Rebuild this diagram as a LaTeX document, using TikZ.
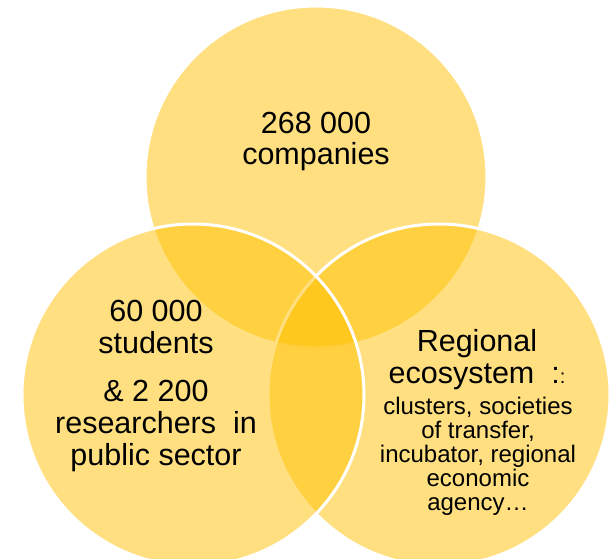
\documentclass[tikz,border=0pt]{standalone}
\usepackage{fontspec}
\setmainfont{Liberation Sans}
\usetikzlibrary{positioning}
\usetikzlibrary{calc}
\definecolor{vennyellow}{RGB}{255,192,0}

\begin{document}
\begin{tikzpicture}[x=1pt, y=-1pt,
        venn/.style={circle, draw=white, line width=3pt, fill=vennyellow, fill opacity=0.5, minimum size=342pt, inner sep=0pt},
        bigtext/.style={align=center, font=\fontsize{30.5}{32}\selectfont, inner sep=0pt},
        smalltext/.style={align=center, font=\fontsize{24}{24}\selectfont, inner sep=0pt}]
        \useasboundingbox (0,0) rectangle (611,559);

        % circles: top first, then right, then left
        \node[venn] (companies) at (316,177) {};
        \node[venn] (ecosystem) at (439,395) {};
        \node[venn] (academia) at (193,395) {};

        % base anchor sits on the last line
        \node[bigtext, anchor=base] (t_companies) at ($(companies)+(0,-12)$) {268 000\\companies};

        \node[bigtext, anchor=base] (t_students) at ($(academia)+(-37,-42)$) {60 000\\students};
        \node[bigtext, anchor=base] (t_researchers) at ($(academia)+(-37,70)$) {\& 2 200\\researchers\ \ in\\public sector};

        \node[bigtext, anchor=base] (t_regional) at ($(ecosystem)+(38,-12)$) {Regional\\ecosystem\ \ :{\fontsize{20}{20}\selectfont :}};
        \node[smalltext, anchor=base] (t_partners) at ($(ecosystem)+(39,115)$) {clusters, societies\\of transfer,\\incubator, regional\\economic\\agency\ldots};
    \end{tikzpicture}
\end{document}
